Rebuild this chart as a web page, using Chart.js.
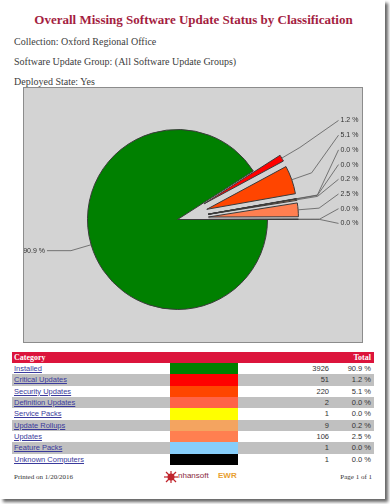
<!DOCTYPE html>
<html lang="en">
<head>
<meta charset="UTF-8">
<meta name="viewport" content="width=device-width, initial-scale=1.0">
<title>Overall Missing Software Update Status by Classification</title>
<script src="https://cdn.jsdelivr.net/npm/chart.js"></script>
<style>
    body { margin: 0; width: 390px; height: 504px; background: #fff; overflow: hidden; }
    .page { position: absolute; left: 0; top: 0; width: 385px; height: 499px; background: #fff; box-shadow: 3px 3px 3px rgba(0,0,0,0.6); }
    .title { position: absolute; top: 12px; left: 0; width: 387px; text-align: center; font: bold 13px "Liberation Serif", serif; color: #a41e3f; white-space: nowrap; }
    .info { position: absolute; left: 14px; font: 10px "Liberation Serif", serif; color: #3c3c3c; white-space: nowrap; }
    .chart-box { position: absolute; left: 23px; top: 87px; width: 340px; height: 256px; box-sizing: border-box; border: 1px solid #8c8c8c; background: #d3d3d3; }
    .chart-box div { position: relative; width: 338px; height: 254px; }
    .grid { position: absolute; left: 12px; top: 352px; width: 362px; display: grid;
            grid-template-columns: 158px 68px 93px 43px; grid-template-rows: 11px repeat(9, 11.33px); }
    .grid > div { font: 7.5px "Liberation Sans", Arial, sans-serif; color: #333; line-height: 11px; white-space: nowrap; overflow: hidden; }
    .grid .hd { background: #dc143c; color: #fff; font: bold 8px "Liberation Serif", serif; line-height: 11px; }
    .grid .alt { background: #c0c0c0; }
    .grid .num { text-align: right; padding-right: 2px; }
    .grid a { color: #3a3a9c; text-decoration: underline; padding-left: 2px; }
    .foot { position: absolute; top: 473px; font: 7px "Liberation Serif", serif; color: #333; }
</style>
</head>
<body>
<div class="page">
    <div class="title">Overall Missing Software Update Status by Classification</div>
    <div class="info" style="top:36px">Collection: Oxford Regional Office</div>
    <div class="info" style="top:56px">Software Update Group: (All Software Update Groups)</div>
    <div class="info" style="top:76px">Deployed State: Yes</div>

    <div class="chart-box"><div><canvas id="classChart"></canvas></div></div>

    <div class="grid" id="legendTable"></div>

    <div class="foot" style="left:14px">Printed on 1/20/2016</div>
    <svg style="position:absolute;left:163px;top:470px" width="16" height="14" viewBox="0 0 16 14">
        <g stroke="#c0242c" stroke-width="1.2">
            <line x1="1" y1="7" x2="15" y2="7"/><line x1="8" y1="1" x2="8" y2="13"/>
            <line x1="3" y1="2" x2="13" y2="12"/><line x1="13" y1="2" x2="3" y2="12"/>
        </g>
        <circle cx="8" cy="7" r="3.5" fill="#c0242c"/>
    </svg>
    <div style="position:absolute;left:178px;top:471px;font:8px 'Liberation Sans',sans-serif;color:#8a2a40">nhansoft</div>
    <div style="position:absolute;left:218px;top:471px;font:bold 8px 'Liberation Sans',sans-serif;color:#e8a030">EWR</div>
    <div class="foot" style="right:13px">Page 1 of 1</div>
</div>

<script>
    // Chart data
    const categories = ['Installed', 'Critical Updates', 'Security Updates', 'Definition Updates', 'Service Packs',
                        'Update Rollups', 'Updates', 'Feature Packs', 'Unknown Computers'];
    const counts = [3926, 51, 220, 2, 1, 9, 106, 1, 1];
    const sliceColors = ['#008000', '#ff0000', '#ff4500', '#ff6347', '#ffff00', '#f4a460', '#ff7f50', '#87cefa', '#000000'];

    const total = counts.reduce((a, b) => a + b, 0);
    const pctText = v => (v / total * 100).toFixed(1) + ' %';

    // Legend table below the chart
    const grid = document.getElementById('legendTable');
    grid.innerHTML = '<div class="hd" style="padding-left:2px">Category</div><div class="hd"></div><div class="hd"></div>' +
                     '<div class="hd num" style="padding-right:3px">Total</div>';
    categories.forEach((name, i) => {
        const cls = i % 2 ? 'alt' : '';
        grid.innerHTML += `
            <div class="${cls}"><a>${name}</a></div>
            <div style="background:${sliceColors[i]}"></div>
            <div class="${cls} num">${counts[i]}</div>
            <div class="${cls} num" style="padding-right:3px">${pctText(counts[i])}</div>`;
    });

    // Pull the small slices out of the pie while they are drawn
    const pieExplode = {
        id: 'pieExplode',
        beforeDatasetDraw(chart, args, opts) {
            args.meta.data.forEach((arc, i) => {
                if (i === 0) return;
                const mid = (arc.startAngle + arc.endAngle) / 2;
                arc.x += Math.cos(mid) * opts.distance;
                arc.y += Math.sin(mid) * opts.distance;
            });
        },
        afterDatasetDraw(chart, args, opts) {
            args.meta.data.forEach((arc, i) => {
                if (i === 0) return;
                const mid = (arc.startAngle + arc.endAngle) / 2;
                arc.x -= Math.cos(mid) * opts.distance;
                arc.y -= Math.sin(mid) * opts.distance;
            });
        }
    };

    // Percentage labels with leader lines
    const leaderLabels = {
        id: 'leaderLabels',
        afterDatasetsDraw(chart) {
            const ctx = chart.ctx;
            const arcs = chart.getDatasetMeta(0).data;
            const dist = chart.options.plugins.pieExplode.distance;
            const right = [];
            ctx.save();
            ctx.strokeStyle = '#5a5a5a';
            ctx.lineWidth = 0.8;
            ctx.fillStyle = '#333';
            ctx.font = '7px "Liberation Sans", Arial, sans-serif';
            ctx.textBaseline = 'middle';
            arcs.forEach((arc, i) => {
                const mid = (arc.startAngle + arc.endAngle) / 2;
                const d = i === 0 ? 0 : dist;
                const c = Math.cos(mid), s = Math.sin(mid);
                const ex = arc.x + c * (d + arc.outerRadius), ey = arc.y + s * (d + arc.outerRadius);
                const bx = ex + c * 21, by = ey + s * 21;
                const text = pctText(counts[i]);
                if (c < 0) {
                    ctx.beginPath();
                    ctx.moveTo(ex, ey); ctx.lineTo(bx, by); ctx.lineTo(bx - 24, by);
                    ctx.stroke();
                    ctx.textAlign = 'right';
                    ctx.fillText(text, bx - 26, by);
                } else {
                    right.push({ ex, ey, bx, by, text });
                }
            });
            if (right.length) {
                const top = right[0].by - 27;
                const bottom = right[right.length - 1].by + 4;
                const lx = arcs[0].x + arcs[0].outerRadius + dist + 42;
                ctx.textAlign = 'left';
                right.forEach((l, k) => {
                    const ly = right.length > 1 ? top + (bottom - top) * k / (right.length - 1) : l.by;
                    ctx.beginPath();
                    ctx.moveTo(l.ex, l.ey); ctx.lineTo(l.bx, l.by); ctx.lineTo(lx - 2, ly);
                    ctx.stroke();
                    ctx.fillText(l.text, lx, ly);
                });
            }
            ctx.restore();
        }
    };

    const chartCtx = document.getElementById('classChart').getContext('2d');
    const classChart = new Chart(chartCtx, {
        type: 'pie',
        data: {
            labels: categories,
            datasets: [{
                data: counts,
                backgroundColor: sliceColors,
                borderColor: '#3a3a3a',
                borderWidth: 1
            }]
        },
        options: {
            responsive: true,
            maintainAspectRatio: false,
            animation: false,
            rotation: 90,
            layout: { padding: { left: 63, right: 94, top: 41, bottom: 32 } },
            plugins: {
                legend: { display: false },
                tooltip: { enabled: false },
                pieExplode: { distance: 31 }
            },
            events: []
        },
        plugins: [pieExplode, leaderLabels]
    });
</script>
</body>
</html>
